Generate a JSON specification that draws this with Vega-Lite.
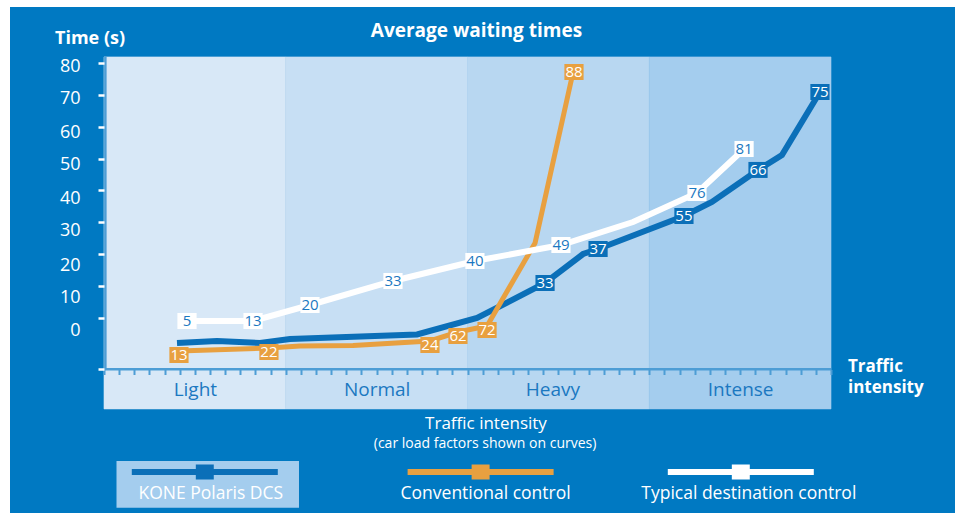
{
  "$schema": "https://vega.github.io/schema/vega-lite/v6.json",
  "width": 945,
  "height": 506,
  "autosize": {"type": "none"},
  "padding": {"left": 10, "top": 7, "right": 0, "bottom": 6},
  "background": "white",
  "config": {
    "view": {"fill": "#0079c2", "stroke": null},
    "font": "Open Sans",
    "axis": {"labelFont": "Open Sans", "grid": false}
  },
  "datasets": {
    "bands": [
      {"band": "Light", "start": 0, "end": 12},
      {"band": "Normal", "start": 12, "end": 24},
      {"band": "Heavy", "start": 24, "end": 36},
      {"band": "Intense", "start": 36, "end": 48}
    ],
    "lines": [
      {"series": "KONE Polaris DCS", "intensity": 4.82, "time": -7.96},
      {"series": "KONE Polaris DCS", "intensity": 7.46, "time": -7.33},
      {"series": "KONE Polaris DCS", "intensity": 10.30, "time": -7.96},
      {"series": "KONE Polaris DCS", "intensity": 12.28, "time": -6.70},
      {"series": "KONE Polaris DCS", "intensity": 20.67, "time": -5.28},
      {"series": "KONE Polaris DCS", "intensity": 24.63, "time": -0.09},
      {"series": "KONE Polaris DCS", "intensity": 29.12, "time": 10.91, "label": "33"},
      {"series": "KONE Polaris DCS", "intensity": 31.63, "time": 20.03},
      {"series": "KONE Polaris DCS", "intensity": 32.62, "time": 21.60, "label": "37"},
      {"series": "KONE Polaris DCS", "intensity": 38.29, "time": 31.98, "label": "55"},
      {"series": "KONE Polaris DCS", "intensity": 40.14, "time": 36.38},
      {"series": "KONE Polaris DCS", "intensity": 43.18, "time": 46.46, "label": "66"},
      {"series": "KONE Polaris DCS", "intensity": 44.76, "time": 51.16},
      {"series": "KONE Polaris DCS", "intensity": 47.27, "time": 70.97, "label": "75"},
      {"series": "Conventional control", "intensity": 4.95, "time": -10.48, "label": "13"},
      {"series": "Conventional control", "intensity": 10.89, "time": -9.53, "label": "22"},
      {"series": "Conventional control", "intensity": 12.94, "time": -8.90},
      {"series": "Conventional control", "intensity": 16.44, "time": -8.74},
      {"series": "Conventional control", "intensity": 21.52, "time": -7.33, "label": "24"},
      {"series": "Conventional control", "intensity": 23.37, "time": -4.50, "label": "62"},
      {"series": "Conventional control", "intensity": 25.29, "time": -2.61, "label": "72"},
      {"series": "Conventional control", "intensity": 28.46, "time": 23.49},
      {"series": "Conventional control", "intensity": 31.03, "time": 78.52, "label": "88"},
      {"series": "Typical destination control", "intensity": 5.48, "time": -1.04, "label": "5"},
      {"series": "Typical destination control", "intensity": 9.84, "time": -1.04, "label": "13"},
      {"series": "Typical destination control", "intensity": 13.60, "time": 3.99, "label": "20"},
      {"series": "Typical destination control", "intensity": 19.08, "time": 11.54, "label": "33"},
      {"series": "Typical destination control", "intensity": 24.49, "time": 17.83, "label": "40"},
      {"series": "Typical destination control", "intensity": 30.17, "time": 22.86, "label": "49"},
      {"series": "Typical destination control", "intensity": 34.93, "time": 30.09},
      {"series": "Typical destination control", "intensity": 39.15, "time": 39.21, "label": "76"},
      {"series": "Typical destination control", "intensity": 42.26, "time": 53.05, "label": "81"}
    ],
    "series": [
      {"series": "KONE Polaris DCS"},
      {"series": "Conventional control"},
      {"series": "Typical destination control"}
    ]
  },
  "layer": [
    {
      "data": {"name": "lines"},
      "transform": [{"filter": "datum.series === 'KONE Polaris DCS'"}],
      "mark": {"type": "line", "color": "#0b6fb8", "strokeWidth": 6, "opacity": 0},
      "encoding": {
        "x": {
          "field": "intensity", "type": "quantitative",
          "scale": {"domain": [-6.206, 56.186], "nice": false, "zero": false},
          "axis": {
            "orient": "bottom", "offset": -143.5, "title": null, "domain": false, "zindex": 1,
            "values": [0,1,2,3,4,5,6,7,8,9,10,11,12,13,14,15,16,17,18,19,20,21,22,23,24,25,26,27,28,29,30,31,32,33,34,35,36,37,38,39,40,41,42,43,44,45,46,47,48],
            "tickCount": 200,
            "tickColor": "#4d9dd5", "tickSize": 5, "tickWidth": 2,
            "labelExpr": "datum.value === 6 ? 'Light' : datum.value === 18 ? 'Normal' : datum.value === 30 ? 'Heavy' : datum.value === 42 ? 'Intense' : ''",
            "labelOverlap": false, "labelBound": false, "labelFlush": false,
            "labelFontSize": 19, "labelColor": "#1b78c1", "labelPadding": 6,
            "labelOffset": {"condition": {"test": "datum.value === 30", "value": -6}, "value": 0}
          }
        },
        "y": {
          "field": "time", "type": "quantitative",
          "scale": {"domain": [-61.42, 97.70], "nice": false, "zero": false},
          "axis": {
            "orient": "left", "offset": -94, "title": null, "domain": false, "zindex": 1,
            "values": [-16.2, 0, 10, 20, 30, 40, 50, 60, 70, 80],
            "tickCount": 200,
            "tickColor": "white", "tickSize": 6, "tickWidth": 2.5,
            "labelExpr": "datum.value < 0 ? '' : datum.label",
            "labelOverlap": false, "labelBound": false, "labelFlush": false,
            "labelFontSize": 18, "labelColor": "white", "labelPadding": 18,
            "labelOffset": {"condition": [
              {"test": "datum.value <= 5", "value": 13},
              {"test": "datum.value <= 25", "value": 11.5},
              {"test": "datum.value <= 45", "value": 8.5},
              {"test": "datum.value <= 65", "value": 5.5}
            ], "value": 3}
          }
        }
      }
    },
    {
      "data": {"name": "bands"},
      "mark": {"type": "rect", "strokeWidth": 0.6},
      "encoding": {
        "x": {"field": "start", "type": "quantitative"},
        "x2": {"field": "end"},
        "y": {"datum": -28.7, "type": "quantitative"},
        "y2": {"datum": 82.0},
        "color": {"field": "band", "type": "nominal", "scale": {"domain": ["Light", "Normal", "Heavy", "Intense"], "range": ["#d8e8f7", "#c7dff4", "#b8d7f1", "#a4cdee"]}, "legend": null},
        "stroke": {"field": "band", "type": "nominal", "scale": {"domain": ["Light", "Normal", "Heavy", "Intense"], "range": ["#d8e8f7", "#c7dff4", "#b8d7f1", "#a4cdee"]}, "legend": null}
      }
    },
    {
      "data": {"values": [{}]},
      "mark": {"type": "rule", "color": "#4d9dd5", "strokeWidth": 2.5},
      "encoding": {
        "x": {"datum": 0.09, "type": "quantitative"},
        "y": {"datum": -16.2, "type": "quantitative"},
        "y2": {"datum": 82.0}
      }
    },
    {
      "data": {"values": [{}]},
      "mark": {"type": "rule", "color": "#4d9dd5", "strokeWidth": 2.5},
      "encoding": {
        "x": {"datum": 0, "type": "quantitative"},
        "x2": {"datum": 48},
        "y": {"datum": -16.2, "type": "quantitative"}
      }
    },
    {
      "data": {"name": "lines"},
      "transform": [{"filter": "datum.series === 'KONE Polaris DCS'"}],
      "mark": {"type": "line", "color": "#0b6fb8", "strokeWidth": 6},
      "encoding": {
        "x": {"field": "intensity", "type": "quantitative"},
        "y": {"field": "time", "type": "quantitative"}
      }
    },
    {
      "data": {"name": "lines"},
      "transform": [{"filter": "datum.series === 'Conventional control'"}],
      "mark": {"type": "line", "color": "#e8a040", "strokeWidth": 5},
      "encoding": {
        "x": {"field": "intensity", "type": "quantitative"},
        "y": {"field": "time", "type": "quantitative"}
      }
    },
    {
      "data": {"name": "lines"},
      "transform": [{"filter": "datum.series === 'Typical destination control'"}],
      "mark": {"type": "line", "color": "#ffffff", "strokeWidth": 6},
      "encoding": {
        "x": {"field": "intensity", "type": "quantitative"},
        "y": {"field": "time", "type": "quantitative"}
      }
    },
    {
      "data": {"name": "lines"},
      "transform": [{"filter": "datum.label != null && datum.series !== 'Conventional control'"}],
      "mark": {"type": "point", "shape": "M-1.2,-1H1.2V1H-1.2Z", "size": 256, "filled": true, "opacity": 1, "strokeWidth": 0},
      "encoding": {
        "x": {"field": "intensity", "type": "quantitative"},
        "y": {"field": "time", "type": "quantitative"},
        "fill": {"field": "series", "type": "nominal", "scale": {"domain": ["KONE Polaris DCS", "Conventional control", "Typical destination control"], "range": ["#0b6fb8", "#e8a040", "#ffffff"]}, "legend": null}
      }
    },
    {
      "data": {"name": "lines"},
      "transform": [{"filter": "datum.label != null && datum.series === 'Conventional control'"}],
      "mark": {"type": "point", "shape": "M-1.2,-0.5H1.2V1.5H-1.2Z", "size": 256, "filled": true, "opacity": 1, "strokeWidth": 0, "color": "#e8a040"},
      "encoding": {
        "x": {"field": "intensity", "type": "quantitative"},
        "y": {"field": "time", "type": "quantitative"}
      }
    },
    {
      "data": {"name": "lines"},
      "transform": [{"filter": "datum.label != null && datum.series !== 'Conventional control'"}],
      "mark": {"type": "text", "fontSize": 15, "align": "center", "baseline": "middle"},
      "encoding": {
        "x": {"field": "intensity", "type": "quantitative"},
        "y": {"field": "time", "type": "quantitative"},
        "text": {"field": "label"},
        "color": {"condition": {"test": "datum.series === 'Typical destination control'", "value": "#1b78c1"}, "value": "#ffffff"}
      }
    },
    {
      "data": {"name": "lines"},
      "transform": [{"filter": "datum.label != null && datum.series === 'Conventional control'"}],
      "mark": {"type": "text", "fontSize": 15, "align": "center", "baseline": "middle", "dy": 4, "color": "#ffffff"},
      "encoding": {
        "x": {"field": "intensity", "type": "quantitative"},
        "y": {"field": "time", "type": "quantitative"},
        "text": {"field": "label"}
      }
    },
    {
      "data": {"values": [{}]},
      "mark": {"type": "text", "fontSize": 19, "fontWeight": "bold", "color": "white", "align": "center", "baseline": "middle"},
      "encoding": {
        "x": {"datum": 24.59, "type": "quantitative"},
        "y": {"datum": 90.0, "type": "quantitative"},
        "text": {"value": "Average waiting times"}
      }
    },
    {
      "data": {"values": [{}]},
      "mark": {"type": "text", "fontSize": 18, "fontWeight": "bold", "color": "white", "align": "center", "baseline": "middle"},
      "encoding": {
        "x": {"datum": -0.92, "type": "quantitative"},
        "y": {"datum": 87.64, "type": "quantitative"},
        "text": {"value": "Time (s)"}
      }
    },
    {
      "data": {"values": [{}]},
      "mark": {"type": "text", "fontSize": 17, "fontWeight": "bold", "color": "white", "align": "left", "baseline": "middle", "lineHeight": 21},
      "encoding": {
        "x": {"datum": 49.12, "type": "quantitative"},
        "y": {"datum": -15.6, "type": "quantitative"},
        "text": {"value": ["Traffic", "intensity"]}
      }
    },
    {
      "data": {"values": [{}]},
      "mark": {"type": "text", "fontSize": 17, "color": "white", "align": "center", "baseline": "middle"},
      "encoding": {
        "x": {"datum": 25.22, "type": "quantitative"},
        "y": {"datum": -33.4, "type": "quantitative"},
        "text": {"value": "Traffic intensity"}
      }
    },
    {
      "data": {"values": [{}]},
      "mark": {"type": "text", "fontSize": 14, "color": "white", "align": "center", "baseline": "middle"},
      "encoding": {
        "x": {"datum": 25.16, "type": "quantitative"},
        "y": {"datum": -39.7, "type": "quantitative"},
        "text": {"value": "(car load factors shown on curves)"}
      }
    },
    {
      "data": {"values": [{}]},
      "mark": {"type": "point", "shape": "M-1,-0.256H1V0.256H-1Z", "size": 33306, "filled": true, "opacity": 1, "strokeWidth": 0, "color": "#a4cdee"},
      "encoding": {
        "x": {"datum": 6.85, "type": "quantitative"},
        "y": {"datum": -52.42, "type": "quantitative"}
      }
    },
    {
      "data": {"name": "series"},
      "transform": [{"filter": "datum.series === 'KONE Polaris DCS'"}],
      "layer": [
        {
          "mark": {"type": "point", "shape": "M-1,-0.04H1V0.04H-1Z M-0.123,-0.103H0.123V0.103H-0.123Z", "size": 21316, "filled": true, "opacity": 1, "strokeWidth": 0},
          "encoding": {
            "x": {"datum": 6.655, "type": "quantitative"},
            "y": {"datum": -48.52, "type": "quantitative"},
            "fill": {"field": "series", "type": "nominal", "legend": null}
          }
        },
        {
          "mark": {"type": "text", "fontSize": 17.5, "color": "white", "align": "center", "baseline": "alphabetic", "dx": 6},
          "encoding": {
            "x": {"datum": 6.655, "type": "quantitative"},
            "y": {"datum": -57.1, "type": "quantitative"},
            "text": {"field": "series"}
          }
        }
      ]
    },
    {
      "data": {"name": "series"},
      "transform": [{"filter": "datum.series === 'Conventional control'"}],
      "layer": [
        {
          "mark": {"type": "point", "shape": "M-1,-0.04H1V0.04H-1Z M-0.123,-0.103H0.123V0.103H-0.123Z", "size": 21316, "filled": true, "opacity": 1, "strokeWidth": 0},
          "encoding": {
            "x": {"datum": 24.865, "type": "quantitative"},
            "y": {"datum": -48.52, "type": "quantitative"},
            "fill": {"field": "series", "type": "nominal", "legend": null}
          }
        },
        {
          "mark": {"type": "text", "fontSize": 17.5, "color": "white", "align": "center", "baseline": "alphabetic", "dx": 5},
          "encoding": {
            "x": {"datum": 24.865, "type": "quantitative"},
            "y": {"datum": -57.1, "type": "quantitative"},
            "text": {"field": "series"}
          }
        }
      ]
    },
    {
      "data": {"name": "series"},
      "transform": [{"filter": "datum.series === 'Typical destination control'"}],
      "layer": [
        {
          "mark": {"type": "point", "shape": "M-1,-0.04H1V0.04H-1Z M-0.123,-0.103H0.123V0.103H-0.123Z", "size": 21316, "filled": true, "opacity": 1, "strokeWidth": 0},
          "encoding": {
            "x": {"datum": 42.044, "type": "quantitative"},
            "y": {"datum": -48.52, "type": "quantitative"},
            "fill": {"field": "series", "type": "nominal", "legend": null}
          }
        },
        {
          "mark": {"type": "text", "fontSize": 17.5, "color": "white", "align": "center", "baseline": "alphabetic", "dx": 8},
          "encoding": {
            "x": {"datum": 42.044, "type": "quantitative"},
            "y": {"datum": -57.1, "type": "quantitative"},
            "text": {"field": "series"}
          }
        }
      ]
    }
  ]
}
